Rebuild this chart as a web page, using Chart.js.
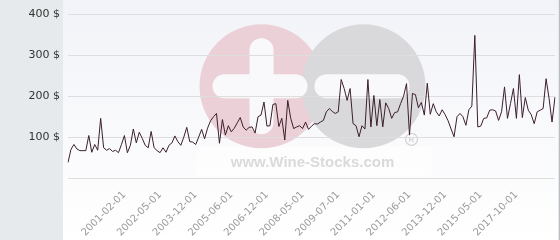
<!DOCTYPE html>
<html><head><meta charset="utf-8">
<script src="https://cdn.jsdelivr.net/npm/chart.js@4.4.1/dist/chart.umd.min.js"></script>
<style>html,body{margin:0;padding:0;background:#fff;overflow:hidden}#wrap{width:560px;height:240px;position:relative}</style>
</head><body><div id="wrap"><canvas id="c" width="560" height="240"></canvas></div>
<script>
// ---- data ----
const prices = [
 38,70,82,71,67,67,67,104,63,82,
 68,146,74,68,72,65,68,62,82,104,
 62,80,120,86,112,97,80,74,114,74,
 67,62,74,63,80,86,103,89,80,100,
 124,89,88,82,100,119,96,122,140,150,
 158,85,143,105,128,113,122,135,148,125,
 117,124,125,110,150,154,186,127,128,180,
 182,126,146,93,190,146,121,125,128,121,
 137,119,127,133,132,137,141,162,170,163,
 158,162,241,219,190,219,133,128,101,128,
 120,241,125,202,128,192,125,184,170,146,
 160,162,182,200,231,105,207,204,172,185,
 154,232,156,182,162,152,167,155,140,120,
 101,150,158,150,129,167,176,349,125,127,
 146,147,166,167,164,141,162,223,146,182,
 219,146,253,148,197,166,155,133,162,166,
 170,243,195,137,198
];
const tickDates = ['2001-02-01','2002-05-01','2003-12-01','2005-06-01','2006-12-01','2008-05-01',
                   '2009-07-01','2011-01-01','2012-06-01','2013-12-01','2015-05-01','2017-10-01'];
const firstTickIndex = 19;
const tickEvery = 12;
const yMin = 0, yMax = 400, yStep = 100;
const currency = '$';
const watermarkText = 'www.Wine-Stocks.com';

// ---- build ----
const categories = prices.map((_, i) => {
  const k = (i - firstTickIndex) / tickEvery;
  return (i >= firstTickIndex && Number.isInteger(k) && k < tickDates.length) ? tickDates[k] : '';
});

function roundBar(ctx, x0, y0, x1, y1) {
  const r = (y1 - y0) / 2;
  ctx.beginPath();
  ctx.moveTo(x0 + r, y0);
  ctx.lineTo(x1 - r, y0);
  ctx.arc(x1 - r, y0 + r, r, -Math.PI / 2, Math.PI / 2);
  ctx.lineTo(x0 + r, y1);
  ctx.arc(x0 + r, y0 + r, r, Math.PI / 2, Math.PI * 1.5);
  ctx.closePath();
  ctx.fill();
}

const backdrop = {
  id: 'backdrop',
  beforeDraw(chart) {
    const ctx = chart.ctx, W = chart.width, H = chart.height;
    const a = chart.chartArea;
    ctx.save();
    ctx.fillStyle = '#e6eaed';
    ctx.fillRect(0, 0, W, H);
    const g = ctx.createLinearGradient(0, 0, 0, H);
    g.addColorStop(0, '#f2f3f8');
    g.addColorStop(1, '#ffffff');
    ctx.fillStyle = g;
    ctx.fillRect(a.left - 5, 0, W - (a.left - 5) - 2, H);
    ctx.fillStyle = '#b9bcc0';
    ctx.fillRect(W - 1, 0, 1, H);

    // watermark logo
    const cx = (a.left + a.right) / 2, cy = (a.top + a.bottom) / 2 - 10;
    ctx.fillStyle = 'rgba(255,255,255,0.55)';
    ctx.fillRect(cx - 115, cy + 60, 235, 30);
    ctx.fillStyle = '#ebd0d7';
    ctx.beginPath(); ctx.arc(cx - 50, cy, 62, 0, Math.PI * 2); ctx.fill();
    ctx.fillStyle = '#d9d9db';
    ctx.beginPath(); ctx.arc(cx + 52, cy, 62, 0, Math.PI * 2); ctx.fill();
    ctx.fillStyle = '#f9f9fb';
    roundBar(ctx, cx - 99, cy - 12, cx - 4, cy + 12);
    ctx.save();
    ctx.translate(cx - 50, cy); ctx.rotate(Math.PI / 2);
    roundBar(ctx, -48, -12, 48, 12);
    ctx.restore();
    roundBar(ctx, cx + 3, cy - 12, cx + 98, cy + 12);
    ctx.strokeStyle = '#d4d4d6'; ctx.lineWidth = 1.2;
    ctx.beginPath(); ctx.arc(cx + 100, cy + 53, 6, 0, Math.PI * 2); ctx.stroke();
    ctx.fillStyle = '#d4d4d6';
    ctx.font = 'bold 8px "Liberation Sans", Arial, sans-serif';
    ctx.textAlign = 'center'; ctx.textBaseline = 'middle';
    ctx.fillText('R', cx + 100, cy + 53.5);
    ctx.fillStyle = '#dadada';
    ctx.font = 'bold 15px "Liberation Sans", Arial, sans-serif';
    ctx.textBaseline = 'alphabetic';
    ctx.fillText(watermarkText, cx + 1, cy + 81);
    ctx.restore();
  }
};

new Chart(document.getElementById('c'), {
  type: 'line',
  data: {
    labels: categories,
    datasets: [{
      data: prices,
      borderColor: '#3b1f2c',
      borderWidth: 1,
      pointRadius: 0,
      tension: 0,
      fill: false
    }]
  },
  options: {
    responsive: false,
    animation: false,
    devicePixelRatio: 1,
    layout: { padding: { top: 14, right: 5, left: 0, bottom: 0 } },
    plugins: { legend: { display: false }, tooltip: { enabled: false } },
    scales: {
      x: {
        type: 'category',
        grid: { display: false, drawTicks: false },
        border: { display: false },
        ticks: {
          autoSkip: false, minRotation: 45, maxRotation: 45,
          color: '#9a9a9a', padding: 11,
          font: { family: '"DejaVu Sans", sans-serif', size: 10 }
        },
        afterFit(s) { s.height = 62; s.paddingLeft = 0; s.paddingRight = 0; }
      },
      y: {
        min: yMin, max: yMax,
        grid: { color: '#dedede', drawTicks: false },
        border: { display: false },
        ticks: {
          stepSize: yStep, padding: 8, color: '#333',
          font: { family: '"DejaVu Sans", sans-serif', size: 11 },
          callback: v => v === 0 ? '' : v + ' ' + currency
        },
        afterFit(s) { s.width = 68; }
      }
    }
  },
  plugins: [backdrop]
});
</script>
</body></html>
